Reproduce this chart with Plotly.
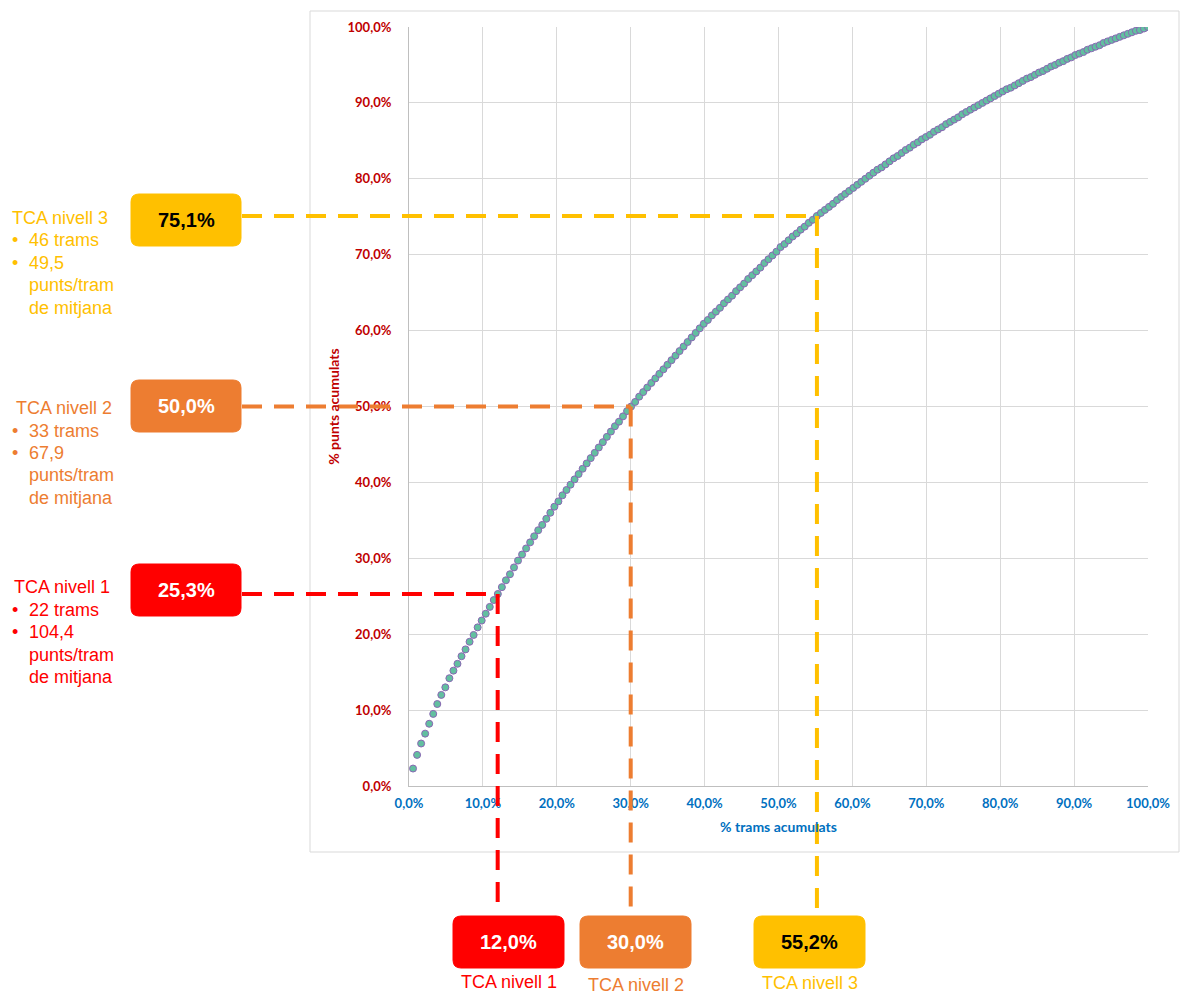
import plotly.graph_objects as go

# ---------------- data ----------------
n_trams = 183
punts_acumulats = [
    2.3, 4.1, 5.6, 6.9, 8.2, 9.5, 10.8, 12.0, 13.0, 14.2,
    15.2, 16.1, 17.1, 18.0, 19.0, 19.9, 20.9, 21.8, 22.7, 23.6,
    24.5, 25.3, 26.2, 27.1, 27.9, 28.8, 29.7, 30.5, 31.3, 32.1,
    32.9, 33.7, 34.4, 35.2, 36.0, 36.8, 37.5, 38.3, 39.0, 39.7,
    40.4, 41.1, 41.8, 42.5, 43.2, 43.9, 44.6, 45.3, 46.0, 46.7,
    47.4, 48.0, 48.7, 49.4, 50.0, 50.6, 51.3, 51.9, 52.5, 53.1,
    53.7, 54.3, 54.9, 55.5, 56.1, 56.7, 57.3, 57.9, 58.5, 59.1,
    59.7, 60.3, 60.9, 61.4, 62.0, 62.5, 63.0, 63.6, 64.1, 64.6,
    65.2, 65.7, 66.2, 66.8, 67.3, 67.8, 68.3, 68.9, 69.4, 69.9,
    70.4, 71.0, 71.4, 71.9, 72.4, 72.8, 73.3, 73.7, 74.2, 74.6,
    75.1, 75.5, 75.9, 76.3, 76.7, 77.2, 77.6, 78.0, 78.4, 78.8,
    79.2, 79.6, 80.0, 80.4, 80.8, 81.2, 81.5, 81.9, 82.3, 82.7,
    83.0, 83.4, 83.8, 84.1, 84.5, 84.8, 85.2, 85.5, 85.8, 86.2,
    86.5, 86.8, 87.2, 87.5, 87.8, 88.1, 88.5, 88.8, 89.1, 89.4,
    89.7, 90.0, 90.3, 90.6, 90.9, 91.2, 91.5, 91.8, 92.0, 92.3,
    92.6, 92.9, 93.2, 93.4, 93.7, 94.0, 94.2, 94.5, 94.8, 95.0,
    95.3, 95.5, 95.8, 96.0, 96.3, 96.5, 96.7, 97.0, 97.2, 97.4,
    97.6, 97.9, 98.1, 98.3, 98.5, 98.7, 98.9, 99.1, 99.3, 99.5,
    99.6, 99.8, 100.0,
]
trams_acumulats = [100.0 * (i + 1) / n_trams for i in range(len(punts_acumulats))]

tick_vals = [0, 10, 20, 30, 40, 50, 60, 70, 80, 90, 100]
tick_text = ["0,0%", "10,0%", "20,0%", "30,0%", "40,0%", "50,0%",
             "60,0%", "70,0%", "80,0%", "90,0%", "100,0%"]

level_names = ["TCA nivell 1", "TCA nivell 2", "TCA nivell 3"]
level_x = [12.0, 30.0, 55.2]          # % trams acumulats
level_y = [25.3, 50.0, 75.1]          # % punts acumulats
level_x_text = ["12,0%", "30,0%", "55,2%"]
level_y_text = ["25,3%", "50,0%", "75,1%"]
level_trams = ["22 trams", "33 trams", "46 trams"]
level_mitjana = ["104,4", "67,9", "49,5"]

# ---------------- styles / geometry ----------------
W, H = 1181, 994
L, R, T, B = 409, 33, 27, 208
PW, PH = W - L - R, H - T - B

def px(x):
    return (x - L) / PW

def py(y):
    return (H - B - y) / PH

colors = ["#FF0000", "#ED7D31", "#FFC000"]
box_text_colors = ["#FFFFFF", "#FFFFFF", "#000000"]
left_box_cy = [590, 406, 220]
left_box_x = (131, 241)
bottom_box_x = [(453, 564), (580, 691), (754, 865)]
bottom_box_y = (916, 968)
bottom_label_cy = [982, 985, 983]
title_x = [12, 14, 10]
title_cy = [587, 408, 218]
line_gap = 22.5
FONT = "Liberation Sans"

def rrect(x0, y0, x1, y1, r=8):
    X0, X1 = px(x0), px(x1)
    Y0, Y1 = py(y0), py(y1)
    rx, ry = r / PW, r / PH
    return (f"M {X0+rx},{Y0} L {X1-rx},{Y0} Q {X1},{Y0} {X1},{Y0-ry} "
            f"L {X1},{Y1+ry} Q {X1},{Y1} {X1-rx},{Y1} L {X0+rx},{Y1} "
            f"Q {X0},{Y1} {X0},{Y1+ry} L {X0},{Y0-ry} Q {X0},{Y0} {X0+rx},{Y0} Z")

def note(x, y, text, size, color, xanchor="center"):
    return dict(xref="paper", yref="paper", x=px(x), y=py(y), text=text,
                showarrow=False, xanchor=xanchor, yanchor="middle",
                font=dict(family=FONT, size=size, color=color))

fig = go.Figure()
fig.add_trace(go.Scatter(
    x=trams_acumulats, y=punts_acumulats, mode="markers",
    marker=dict(size=7, color="#62BFA0", line=dict(color="#8A66B4", width=1)),
    hoverinfo="skip", showlegend=False,
))

shapes = []
annotations = []

# outer chart border
shapes.append(dict(type="rect", xref="paper", yref="paper",
                   x0=px(310), x1=px(1179), y0=py(11), y1=py(852),
                   line=dict(color="#D9D9D9", width=1), layer="below"))

for k in range(3):
    c = colors[k]
    xp = level_x[k] / 100.0
    yp = level_y[k] / 100.0
    cy = left_box_cy[k]
    # horizontal dashed connector
    shapes.append(dict(type="line", xref="paper", yref="paper",
                       x0=px(left_box_x[1] + 1), y0=yp, x1=xp, y1=yp,
                       line=dict(color=c, width=4, dash="20px,12px")))
    # vertical dashed connector
    shapes.append(dict(type="line", xref="paper", yref="paper",
                       x0=xp, y0=yp, x1=xp, y1=py(bottom_box_y[0] - 4),
                       line=dict(color=c, width=4, dash="20px,12px")))
    # left box
    shapes.append(dict(type="path", xref="paper", yref="paper",
                       path=rrect(left_box_x[0], cy - 26, left_box_x[1], cy + 26),
                       fillcolor=c, line=dict(color=c, width=1)))
    annotations.append(note(sum(left_box_x) / 2, cy, f"<b>{level_y_text[k]}</b>",
                            20, box_text_colors[k]))
    # bottom box
    bx0, bx1 = bottom_box_x[k]
    shapes.append(dict(type="path", xref="paper", yref="paper",
                       path=rrect(bx0, bottom_box_y[0], bx1, bottom_box_y[1]),
                       fillcolor=c, line=dict(color=c, width=1)))
    annotations.append(note((bx0 + bx1) / 2, sum(bottom_box_y) / 2,
                            f"<b>{level_x_text[k]}</b>", 20, box_text_colors[k]))
    annotations.append(note((bx0 + bx1) / 2, bottom_label_cy[k], level_names[k], 18, c))
    # left text block
    ty = title_cy[k]
    annotations.append(note(title_x[k], ty, level_names[k], 18, c, "left"))
    lines = [("•", level_trams[k]), ("•", level_mitjana[k]),
             ("", "punts/tram"), ("", "de mitjana")]
    for j, (bul, txt) in enumerate(lines):
        yy = ty + line_gap * (j + 1)
        if bul:
            annotations.append(note(15, yy, bul, 18, c))
        annotations.append(note(27, yy, txt, 18, c, "left"))

fig.update_layout(
    width=W, height=H,
    margin=dict(l=L, r=R, t=T, b=B, autoexpand=False),
    paper_bgcolor="white", plot_bgcolor="white",
    shapes=shapes, annotations=annotations,
    xaxis=dict(
        range=[0, 100], tickvals=tick_vals,
        ticktext=[f"<b>{t}</b>" for t in tick_text],
        tickfont=dict(family="Lato", size=13, color="#0070C0"),
        showgrid=True, gridcolor="#D9D9D9", gridwidth=1,
        showline=True, linecolor="#BFBFBF", linewidth=1,
        zeroline=False, ticks="", ticklabelstandoff=5,
        title=dict(text="<b>% trams acumulats</b>", standoff=12,
                   font=dict(family="Lato", size=14, color="#0070C0")),
    ),
    yaxis=dict(
        range=[0, 100], tickvals=tick_vals,
        ticktext=[f"<b>{t}</b>" for t in tick_text],
        tickfont=dict(family="Lato", size=13, color="#C00000"),
        showgrid=True, gridcolor="#D9D9D9", gridwidth=1,
        showline=True, linecolor="#BFBFBF", linewidth=1,
        zeroline=False, ticks="", ticklabelstandoff=14,
        title=dict(text="<b>% punts acumulats</b>", standoff=4,
                   font=dict(family="Lato", size=14, color="#C00000")),
    ),
)

fig.write_html("out.html")
